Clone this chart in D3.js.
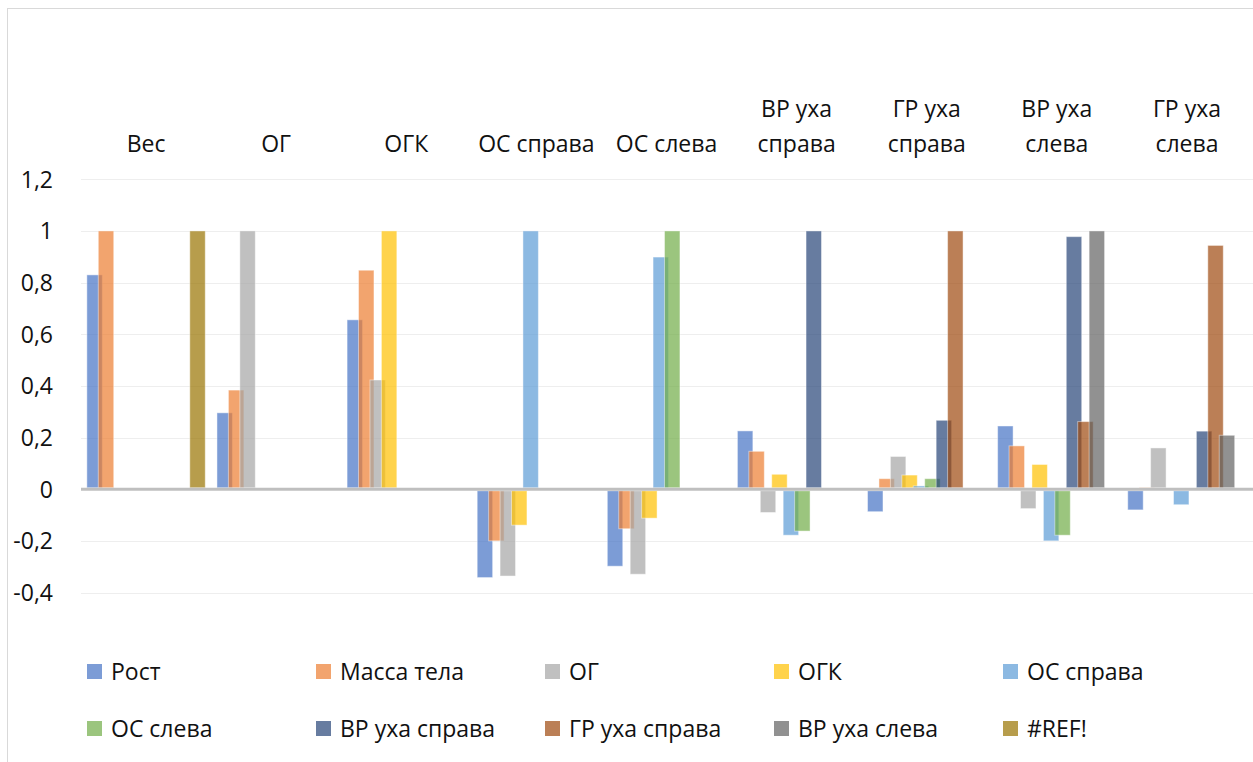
<!DOCTYPE html>
<html>
<head>
<meta charset="utf-8">
<script src="https://cdnjs.cloudflare.com/ajax/libs/d3/7.8.5/d3.min.js"></script>
<style>
  body { margin: 0; background: #fff; }
  svg text { font-family: "Open Sans", "Noto Sans", sans-serif; fill: #111; }
</style>
</head>
<body>
<div class="chart"></div>
<script>
(function(){

  // categories on the x axis (labels are shown on top)
  var categories = ['Вес', 'ОГ', 'ОГК', 'ОС справа', 'ОС слева',
    'ВР уха справа', 'ГР уха справа', 'ВР уха слева', 'ГР уха слева']

  var seriesNames = ['Рост', 'Масса тела', 'ОГ', 'ОГК', 'ОС справа',
    'ОС слева', 'ВР уха справа', 'ГР уха справа', 'ВР уха слева', '#REF!']

  var seriesColors = ['#4472c4', '#ed7d31', '#a5a5a5', '#ffc000', '#5b9bd5',
    '#70ad47', '#264478', '#9e480e', '#636363', '#997300']

  // one array per series, one value per category
  var rost      = [0.83, 0.296, 0.656, -0.336, -0.292, 0.226, -0.081, 0.245, -0.074]
  var massa     = [1, 0.384, 0.848, -0.194, -0.147, 0.147, 0.041, 0.168, 0.007]
  var og        = [0, 1, 0.423, -0.33, -0.323, -0.084, 0.127, -0.069, 0.16]
  var ogk       = [0, 0, 1, -0.133, -0.106, 0.058, 0.055, 0.096, 0]
  var osRight   = [0, 0, 0, 1, 0.899, -0.172, 0.013, -0.194, -0.054]
  var osLeft    = [0, 0, 0, 0, 1, -0.156, 0.041, -0.172, 0]
  var vrRight   = [0, 0, 0, 0, 0, 1, 0.267, 0.978, 0.225]
  var grRight   = [0, 0, 0, 0, 0, 0, 1, 0.262, 0.944]
  var vrLeft    = [0, 0, 0, 0, 0, 0, 0, 1, 0.209]
  var refErr    = [1, 0, 0, 0, 0, 0, 0, 0, 0]

  var yTicks = [-0.4, -0.2, 0, 0.2, 0.4, 0.6, 0.8, 1, 1.2]

  var seriesValues = [rost, massa, og, ogk, osRight, osLeft, vrRight, grRight, vrLeft, refErr]

  var width = 1253, height = 762

  var svg = d3.select('.chart').append('svg')
    .attr('width', width)
    .attr('height', height)

  // chart frame
  svg.append('rect')
    .attr('x', 7.5).attr('y', 8.5)
    .attr('width', width + 20).attr('height', height + 20)
    .style('fill', 'none')
    .style('stroke', '#d9d9d9')

  var x = d3.scaleBand()
    .domain(categories)
    .range([81, 1252])
    .paddingInner(0.09)
    .paddingOuter(0.045)

  var overlap = 0.26
  var barWidth = x.bandwidth() / (seriesNames.length - (seriesNames.length - 1) * overlap)
  var barStep = barWidth * (1 - overlap)

  var y = d3.scaleLinear()
    .domain([-0.4, 1.2])
    .range([592.6, 179.3])

  // gridlines
  svg.append('g').selectAll('line')
    .data(yTicks.filter(function(d){ return d !== 0 }))
    .enter().append('line')
    .attr('x1', 81).attr('x2', width)
    .attr('y1', function(d){ return Math.round(y(d)) + 0.5 })
    .attr('y2', function(d){ return Math.round(y(d)) + 0.5 })
    .style('stroke', '#eeeeee')
    .style('stroke-width', 1.2)

  // y tick labels
  var fmt = function(d){ return String(+d.toFixed(1)).replace('.', ',') }
  svg.append('g').selectAll('text')
    .data(yTicks)
    .enter().append('text')
    .attr('x', 53)
    .attr('y', function(d){ return y(d) })
    .attr('dy', '0.36em')
    .attr('text-anchor', 'end')
    .style('font-size', '23px')
    .text(fmt)

  // bars, one group per series so later series draw on top
  var seriesG = svg.append('g').selectAll('g')
    .data(seriesValues)
    .enter().append('g')
    .style('fill', function(d, i){ return seriesColors[i] })

  seriesG.each(function(vals, si){
    d3.select(this).selectAll('rect')
      .data(vals)
      .enter().append('rect')
      .attr('x', function(d, ci){ return x(categories[ci]) + si * barStep })
      .attr('width', barWidth)
      .attr('y', function(d){ return d >= 0 ? y(d) : y(0) + 1.5 })
      .attr('height', function(d){ return Math.max(0, Math.abs(y(d) - y(0)) - (d >= 0 ? 1.5 : 0)) })
      .style('fill-opacity', 0.7)
      .style('stroke', '#ffffff')
      .style('stroke-opacity', 0.45)
      .style('stroke-width', 1)
  })

  // zero line
  svg.append('line')
    .attr('x1', 81).attr('x2', width)
    .attr('y1', y(0)).attr('y2', y(0))
    .style('stroke', '#bfbfbf')
    .style('stroke-width', 3)

  // category labels above the plot, wrapped like in excel
  var catG = svg.append('g').selectAll('text')
    .data(categories)
    .enter().append('text')
    .attr('text-anchor', 'middle')
    .style('font-size', '23px')

  catG.each(function(d){
    var lines = d.indexOf(' уха ') > 0 ? [d.split(' уха ')[0] + ' уха', d.split(' уха ')[1]] : [d]
    var cx = x(d) + x.bandwidth() / 2
    var t = d3.select(this)
    lines.forEach(function(line, li){
      t.append('tspan')
        .attr('x', cx)
        .attr('y', 152 - (lines.length - 1 - li) * 35)
        .text(line)
    })
  })

  // legend: 5 columns x 2 rows
  var legend = svg.append('g').selectAll('g')
    .data(seriesNames)
    .enter().append('g')
    .attr('transform', function(d, i){
      return 'translate(' + (87 + (i % 5) * 229) + ',' + (664 + Math.floor(i / 5) * 57) + ')'
    })

  legend.append('rect')
    .attr('width', 15).attr('height', 15)
    .style('fill', function(d, i){ return seriesColors[i] })
    .style('fill-opacity', 0.7)

  legend.append('text')
    .attr('x', 24)
    .attr('y', 16)
    .style('font-size', '23px')
    .text(function(d){ return d })

})()
</script>
</body>
</html>
